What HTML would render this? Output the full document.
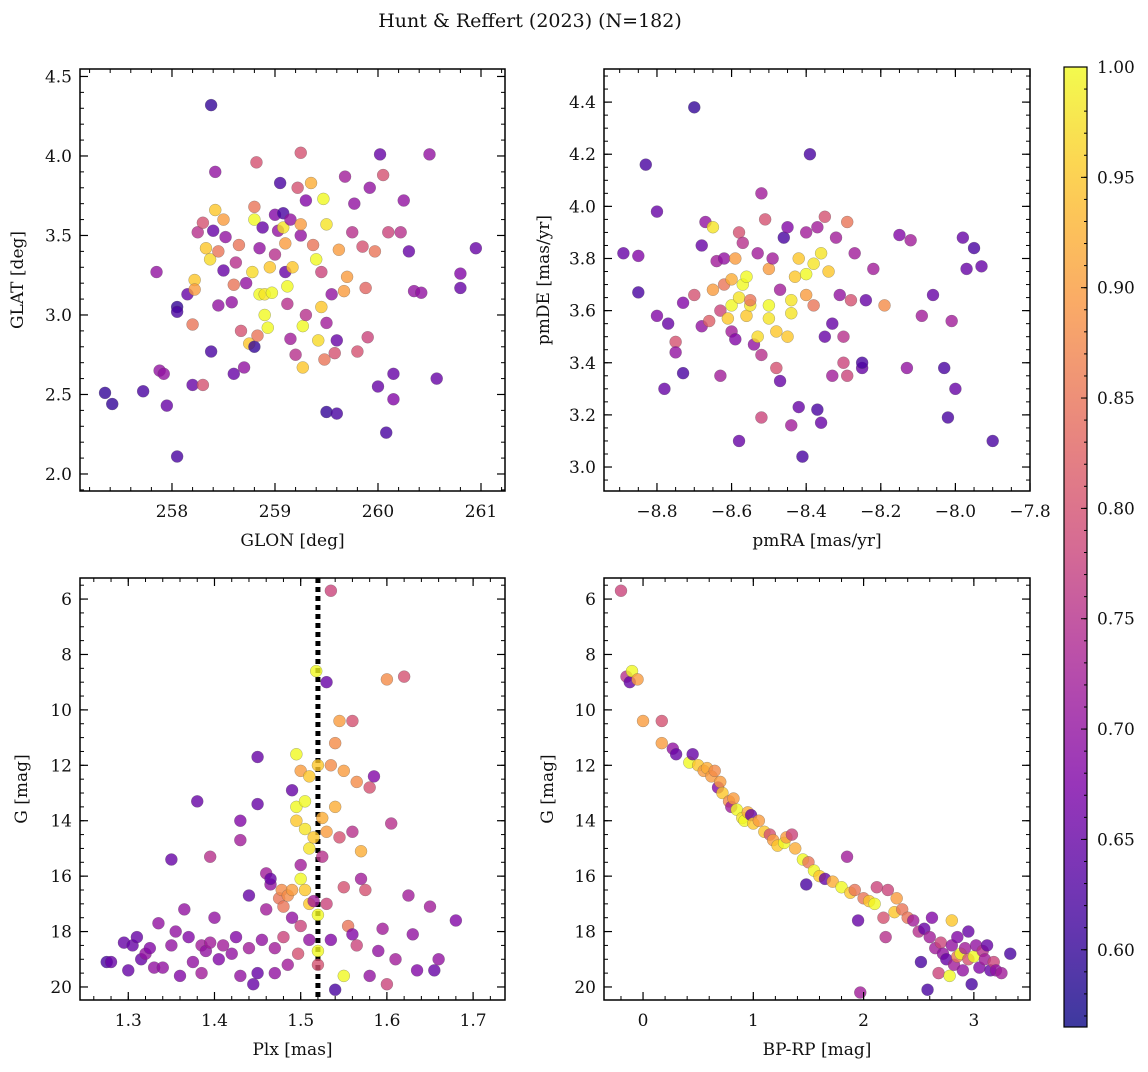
<!DOCTYPE html>
<html><head><meta charset="utf-8"><style>
body{margin:0;background:#fff;}
svg text{font-family:"DejaVu Serif","Liberation Serif",serif;fill:#111;}
</style></head><body>
<svg id="fig" width="1148" height="1067" viewBox="0 0 1148 1067" xmlns="http://www.w3.org/2000/svg">
<text x="530" y="27" font-size="19" text-anchor="middle">Hunt &amp; Reffert (2023) (N=182)</text>
</svg>
<script>
// Panel 1: GLON / GLAT / probability
const p1x=[257.35,257.42,257.72,257.85,257.88,257.92,257.95,258.05,258.05,258.05,258.15,258.2,258.2,258.22,258.22,258.25,258.3,258.3,258.33,258.37,258.38,258.38,258.4,258.42,258.42,258.45,258.45,258.5,258.5,258.52,258.58,258.6,258.6,258.62,258.65,258.67,258.7,258.72,258.75,258.78,258.8,258.8,258.8,258.82,258.85,258.83,258.85,258.88,258.9,258.9,258.93,258.95,258.97,259.0,259.0,259.03,259.05,259.08,259.08,259.1,259.1,259.12,259.12,259.15,259.15,259.17,259.2,259.22,259.25,259.25,259.25,259.27,259.27,259.3,259.3,259.35,259.37,259.4,259.42,259.45,259.45,259.47,259.48,259.5,259.5,259.5,259.55,259.58,259.6,259.6,259.62,259.67,259.68,259.7,259.75,259.77,259.8,259.85,259.88,259.9,259.92,259.97,260.0,260.02,260.05,260.08,260.1,260.15,260.15,260.22,260.25,260.3,260.35,260.42,260.5,260.57,260.8,260.8,260.95];
const p1y=[2.51,2.44,2.52,3.27,2.65,2.63,2.43,2.11,3.05,3.02,3.13,2.56,2.94,3.22,3.16,3.52,2.56,3.58,3.42,3.35,4.32,2.77,3.53,3.9,3.66,3.06,3.4,3.6,3.28,3.49,3.08,2.63,3.19,3.33,3.44,2.9,2.67,3.2,2.82,3.27,2.8,3.6,3.68,3.96,3.13,2.87,3.42,3.55,3.0,3.13,2.92,3.3,3.14,3.63,3.38,3.53,3.83,3.64,3.55,3.45,3.27,3.18,3.07,3.6,2.85,3.3,2.75,3.8,4.02,3.5,3.57,2.93,2.67,3.0,3.72,3.83,3.44,3.35,2.84,3.05,3.27,3.73,2.72,2.39,3.57,2.95,3.13,2.76,2.38,2.84,3.41,3.15,3.87,3.24,3.52,3.7,2.77,3.43,3.17,2.86,3.8,3.4,2.55,4.01,3.88,2.26,3.52,2.47,2.63,3.52,3.72,3.4,3.15,3.14,4.01,2.6,3.26,3.17,3.42];
const p1c=[.6,.6,.62,.7,.7,.7,.65,.62,.6,.62,.65,.65,.85,.95,.9,.75,.8,.8,.95,.97,.6,.62,.65,.7,.95,.7,.85,.9,.65,.7,.7,.65,.85,.75,.85,.8,.7,.7,.95,.97,.6,1,.85,.8,1,.85,.7,.65,1,.98,1,.95,1,.68,.75,.7,.62,.62,.98,.9,.65,1,.75,.7,.72,.95,.75,.8,.8,.7,.9,1,.95,.75,.68,.92,.85,1,.97,.95,.78,1,.85,.6,.98,.72,.7,.8,.62,.65,.9,.9,.72,.9,.75,.7,.8,.8,.83,.78,.7,.85,.65,.65,.8,.62,.78,.68,.65,.75,.7,.65,.7,.7,.7,.65,.68,.65,.65];
// Panel 2: pmRA / pmDE / probability
const p2x=[-8.89,-8.85,-8.85,-8.83,-8.8,-8.8,-8.78,-8.77,-8.75,-8.75,-8.73,-8.73,-8.7,-8.7,-8.68,-8.68,-8.67,-8.66,-8.65,-8.65,-8.64,-8.63,-8.63,-8.62,-8.62,-8.61,-8.6,-8.6,-8.6,-8.59,-8.59,-8.58,-8.58,-8.58,-8.57,-8.57,-8.56,-8.56,-8.55,-8.55,-8.54,-8.53,-8.53,-8.52,-8.52,-8.52,-8.51,-8.5,-8.5,-8.5,-8.49,-8.48,-8.48,-8.47,-8.47,-8.46,-8.45,-8.45,-8.44,-8.44,-8.44,-8.43,-8.42,-8.42,-8.41,-8.4,-8.4,-8.4,-8.39,-8.38,-8.38,-8.37,-8.37,-8.36,-8.36,-8.35,-8.35,-8.34,-8.33,-8.33,-8.32,-8.31,-8.3,-8.3,-8.29,-8.29,-8.28,-8.27,-8.25,-8.25,-8.24,-8.22,-8.19,-8.15,-8.13,-8.12,-8.09,-8.06,-8.03,-8.02,-8.01,-8.0,-7.98,-7.97,-7.95,-7.93,-7.9];
const p2y=[3.82,3.81,3.67,4.16,3.98,3.58,3.3,3.55,3.48,3.44,3.36,3.63,3.66,4.38,3.54,3.85,3.94,3.56,3.92,3.68,3.79,3.35,3.6,3.7,3.8,3.57,3.62,3.52,3.72,3.8,3.49,3.1,3.9,3.65,3.7,3.86,3.58,3.73,3.62,3.64,3.47,3.82,3.5,3.19,4.05,3.43,3.95,3.57,3.76,3.62,3.8,3.38,3.52,3.68,3.33,3.88,3.5,3.92,3.64,3.59,3.16,3.73,3.8,3.23,3.04,3.74,3.9,3.66,4.2,3.78,3.62,3.92,3.22,3.17,3.82,3.96,3.5,3.75,3.35,3.55,3.88,3.66,3.4,3.5,3.94,3.35,3.64,3.82,3.38,3.4,3.64,3.76,3.62,3.89,3.38,3.87,3.58,3.66,3.38,3.19,3.56,3.3,3.88,3.76,3.84,3.77,3.1];
const p2c=[.65,.68,.62,.62,.65,.68,.65,.65,.8,.7,.62,.68,.8,.6,.7,.65,.7,.82,.98,.9,.72,.72,.78,.85,.7,.95,1,.72,.92,.9,.68,.65,.8,.98,1,.75,.95,1,.98,.85,.7,.72,.97,.78,.72,.75,.8,.98,.9,1,.72,.8,.95,.72,.65,.62,.95,.68,.98,.98,.72,.95,.95,.65,.62,1,.72,.9,.62,.98,.85,.72,.62,.65,.98,.8,.65,.95,.72,.65,.72,.7,.78,.75,.85,.78,.8,.72,.65,.62,.65,.72,.88,.68,.7,.72,.72,.65,.62,.62,.72,.65,.65,.65,.62,.65,.62];
// Panel 3: Plx / G / probability
const p3x=[1.275,1.28,1.295,1.30,1.305,1.31,1.315,1.32,1.325,1.33,1.335,1.34,1.35,1.35,1.355,1.36,1.365,1.37,1.375,1.38,1.385,1.385,1.39,1.395,1.395,1.40,1.405,1.41,1.42,1.425,1.43,1.43,1.43,1.44,1.44,1.445,1.45,1.45,1.45,1.455,1.46,1.46,1.465,1.465,1.47,1.47,1.475,1.478,1.48,1.48,1.485,1.485,1.49,1.49,1.49,1.495,1.495,1.495,1.497,1.5,1.5,1.5,1.5,1.505,1.505,1.505,1.518,1.51,1.51,1.51,1.51,1.515,1.515,1.52,1.52,1.52,1.52,1.525,1.525,1.53,1.53,1.53,1.535,1.535,1.535,1.54,1.54,1.54,1.545,1.545,1.55,1.55,1.55,1.555,1.56,1.56,1.56,1.565,1.565,1.57,1.57,1.575,1.58,1.58,1.585,1.59,1.595,1.60,1.60,1.605,1.61,1.62,1.625,1.63,1.635,1.65,1.655,1.66,1.68];
const p3y=[19.1,19.1,18.4,19.4,18.5,18.2,19.0,18.8,18.6,19.3,17.7,19.3,15.4,18.5,18.0,19.6,17.2,18.2,19.1,13.3,18.5,19.5,18.7,15.3,18.4,17.5,19.0,18.5,18.8,18.2,14.0,14.7,19.6,18.6,16.7,19.9,11.7,13.4,19.5,18.3,15.9,17.2,16.3,16.1,18.6,19.5,16.8,16.5,17.1,18.2,16.7,19.2,12.9,16.5,17.5,13.5,11.6,14.0,18.8,12.2,15.6,16.1,17.8,13.3,14.3,16.5,8.6,12.4,15.0,17.0,18.3,14.6,16.9,12.0,17.4,18.7,19.2,13.9,15.3,9.0,14.4,17.0,5.7,12.0,18.3,11.2,13.5,20.1,10.4,14.6,12.2,16.4,19.6,17.8,10.4,14.4,18.1,12.6,18.5,15.1,16.1,16.5,12.8,19.6,12.4,18.7,17.9,8.9,19.9,14.1,19.0,8.8,16.7,18.1,19.4,17.1,19.4,19.0,17.6];
const p3c=[.62,.65,.65,.65,.65,.65,.65,.7,.68,.7,.7,.7,.65,.7,.7,.68,.7,.68,.7,.65,.72,.72,.7,.75,.72,.7,.68,.72,.7,.68,.68,.72,.7,.72,.65,.65,.65,.65,.65,.7,.72,.72,.7,.65,.72,.7,.85,.88,.85,.78,.88,.72,.65,.9,.7,1,1,.95,.8,.9,.72,1,.78,1,.98,.95,1,.95,.98,.95,.7,.95,.72,.95,1,1,.8,.92,.75,.65,.9,.78,.78,.88,.68,.88,.92,.62,.9,.8,.9,.8,1,.85,.8,.75,.68,.88,.78,.92,.72,.8,.8,.7,.68,.7,.72,.88,.78,.75,.72,.8,.72,.7,.68,.72,.65,.7,.68];
// Panel 4: BP-RP / G / probability
const p4x=[-0.2,-0.15,-0.12,-0.1,-0.05,0.0,0.17,0.17,0.27,0.3,0.42,0.45,0.5,0.55,0.58,0.62,0.65,0.68,0.7,0.72,0.78,0.8,0.82,0.85,0.9,0.92,0.95,0.98,1.0,1.05,1.1,1.15,1.18,1.22,1.28,1.3,1.35,1.38,1.45,1.48,1.5,1.55,1.6,1.65,1.72,1.8,1.85,1.88,1.92,1.95,1.97,2.0,2.05,2.1,2.12,2.18,2.2,2.22,2.28,2.3,2.35,2.4,2.45,2.5,2.52,2.55,2.58,2.6,2.62,2.65,2.68,2.7,2.72,2.75,2.78,2.8,2.8,2.82,2.85,2.85,2.88,2.9,2.92,2.95,2.95,2.98,3.0,3.02,3.05,3.08,3.1,3.12,3.15,3.18,3.2,3.25,3.33];
const p4y=[5.7,8.8,9.0,8.6,8.9,10.4,10.4,11.2,11.4,11.6,11.9,11.6,12.0,12.2,12.1,12.4,12.2,12.8,12.6,13.0,13.3,13.5,13.2,13.6,13.9,14.0,13.7,13.8,14.1,14.0,14.4,14.5,14.7,14.9,14.8,14.6,14.5,15.0,15.4,16.3,15.5,15.8,16.0,16.1,16.2,16.4,15.3,16.6,16.5,17.6,20.2,16.8,16.9,17.0,16.4,17.5,18.2,16.5,17.3,16.8,17.2,17.5,17.6,18.0,19.1,17.9,20.1,18.2,17.5,18.6,19.5,18.4,18.8,19.0,19.6,17.6,18.5,19.2,18.9,18.2,18.8,19.4,18.6,19.0,18.0,19.9,18.9,18.5,19.3,18.7,19.0,18.5,19.4,19.1,19.4,19.5,18.8];
const p4c=[.78,.75,.65,1,.9,.9,.8,.9,.7,.65,1,.65,.95,.9,.92,.9,.88,.68,.9,.95,.88,.72,.9,1,.98,1,.92,.65,.95,.9,.95,.8,.9,.95,1,.9,.78,.92,1,.62,.85,1,.95,.65,.92,1,.72,.95,.85,.65,.72,.85,.95,1,.78,.8,.75,.78,.95,.9,.85,.85,.72,.75,.62,.65,.62,.72,.68,.72,.78,.78,.7,.65,1,.95,.7,.72,.85,.68,1,.7,.72,.8,.65,.62,1,.7,.68,.75,.72,.65,.65,.78,.7,.72,.62];
const cbTicks=[0.60,0.65,0.70,0.75,0.80,0.85,0.90,0.95,1.00];
const vmin=0.565, vmax=1.0;

const NS='http://www.w3.org/2000/svg';
const svg=document.getElementById('fig');
function mk(tag,attrs,parent){const e=document.createElementNS(NS,tag);for(const k in attrs)e.setAttribute(k,attrs[k]);(parent||svg).appendChild(e);return e;}
const stops=[[0,[13,8,135]],[.13,[75,3,161]],[.25,[125,3,168]],[.38,[168,34,150]],[.5,[203,70,121]],[.63,[229,107,93]],[.75,[248,148,65]],[.88,[253,195,40]],[1,[240,249,33]]];
function plasma(t){t=Math.max(0,Math.min(1,t));for(let i=1;i<stops.length;i++){if(t<=stops[i][0]){const a=stops[i-1],b=stops[i];const f=(t-a[0])/(b[0]-a[0]);return 'rgb('+a[1].map((v,j)=>Math.round(v+(b[1][j]-v)*f)).join(',')+')';}}return 'rgb(240,249,33)';}
function cmap(v){return plasma((v-vmin)/(vmax-vmin));}

function panel(o){
  const g=mk('g',{});
  
  
  const sx=v=>o.L+(v-o.x0)/(o.x1-o.x0)*(o.R-o.L);
  const sy=o.inv?(v=>o.T+(v-o.y0)/(o.y1-o.y0)*(o.B-o.T)):(v=>o.B-(v-o.y0)/(o.y1-o.y0)*(o.B-o.T));
  if(o.vline!==undefined){const l=mk('line',{x1:sx(o.vline),x2:sx(o.vline),y1:o.T,y2:o.B,stroke:'#000','stroke-width':5,'stroke-dasharray':'5,4'},g);
    }
  for(let i=0;i<o.xs.length;i++){
    const c=mk('circle',{cx:sx(o.xs[i]),cy:sy(o.ys[i]),r:6,fill:cmap(o.cs[i]),'fill-opacity':0.8,stroke:'#555','stroke-opacity':0.5,'stroke-width':0.5},g);
    
    
  }
  const f=mk('rect',{x:o.L,y:o.T,width:o.R-o.L,height:o.B-o.T,fill:'none',stroke:'#000','stroke-width':1.5},g);
  
  const eps=1e-9;
  const lo=Math.min(o.x0,o.x1),hi=Math.max(o.x0,o.x1);
  for(let v=Math.ceil(lo/o.xm-eps)*o.xm;v<=hi+eps;v+=o.xm){const X=sx(v);mk('line',{x1:X,x2:X,y1:o.B,y2:o.B-4,stroke:'#000'},g);mk('line',{x1:X,x2:X,y1:o.T,y2:o.T+4,stroke:'#000'},g);}
  o.xt.forEach(v=>{const X=sx(v);mk('line',{x1:X,x2:X,y1:o.B,y2:o.B-8,stroke:'#000','stroke-width':1.2},g);mk('line',{x1:X,x2:X,y1:o.T,y2:o.T+8,stroke:'#000','stroke-width':1.2},g);
    const t=mk('text',{x:X,y:o.B+26,'font-size':17,'text-anchor':'middle'},g);t.textContent=(v<0?'\u2212':'')+Math.abs(v).toFixed(o.xd);
    });
  const ylo=Math.min(o.y0,o.y1),yhi=Math.max(o.y0,o.y1);
  for(let v=Math.ceil(ylo/o.ym-eps)*o.ym;v<=yhi+eps;v+=o.ym){const Y=sy(v);mk('line',{x1:o.L,x2:o.L+4,y1:Y,y2:Y,stroke:'#000'},g);mk('line',{x1:o.R,x2:o.R-4,y1:Y,y2:Y,stroke:'#000'},g);}
  o.yt.forEach(v=>{const Y=sy(v);mk('line',{x1:o.L,x2:o.L+8,y1:Y,y2:Y,stroke:'#000','stroke-width':1.2},g);mk('line',{x1:o.R,x2:o.R-8,y1:Y,y2:Y,stroke:'#000','stroke-width':1.2},g);
    const t=mk('text',{x:o.L-8,y:Y+6,'font-size':17,'text-anchor':'end'},g);t.textContent=v.toFixed(o.yd);
    });
  const xl=mk('text',{x:(o.L+o.R)/2,y:o.B+55,'font-size':17,'text-anchor':'middle'},g);xl.textContent=o.xlab;
  
  const yx=o.ylx, yy=(o.T+o.B)/2;
  const yl=mk('text',{x:yx,y:yy,'font-size':17,'text-anchor':'middle',transform:'rotate(-90 '+yx+' '+yy+')'},g);yl.textContent=o.ylab;
  
}
panel({name:'glon-glat-panel',L:80,R:505,T:69,B:491,x0:257.107,x1:261.233,y0:1.893,y1:4.547,xs:p1x,ys:p1y,cs:p1c,xt:[258,259,260,261],xm:0.2,xd:0,yt:[2.0,2.5,3.0,3.5,4.0,4.5],ym:0.1,yd:1,xlab:'GLON [deg]',ylab:'GLAT [deg]',ylx:23});
panel({name:'proper-motion-panel',L:604,R:1030,T:69,B:491,x0:-8.942,x1:-7.8,y0:2.908,y1:4.527,xs:p2x,ys:p2y,cs:p2c,xt:[-8.8,-8.6,-8.4,-8.2,-8.0,-7.8],xm:0.05,xd:1,yt:[3.0,3.2,3.4,3.6,3.8,4.0,4.2,4.4],ym:0.05,yd:1,xlab:'pmRA [mas/yr]',ylab:'pmDE [mas/yr]',ylx:549});
panel({name:'parallax-magnitude-panel',L:80,R:505,T:578,B:1000,x0:1.244,x1:1.737,y0:5.24,y1:20.47,inv:true,xs:p3x,ys:p3y,cs:p3c,xt:[1.3,1.4,1.5,1.6,1.7],xm:0.02,xd:1,yt:[6,8,10,12,14,16,18,20],ym:0.5,yd:0,xlab:'Plx [mas]',ylab:'G [mag]',ylx:27,vline:1.52});
panel({name:'color-magnitude-panel',L:604,R:1030,T:578,B:1000,x0:-0.354,x1:3.509,y0:5.24,y1:20.47,inv:true,xs:p4x,ys:p4y,cs:p4c,xt:[0,1,2,3],xm:0.2,xd:0,yt:[6,8,10,12,14,16,18,20],ym:0.5,yd:0,xlab:'BP-RP [mag]',ylab:'G [mag]',ylx:553});

// colorbar
const cb=mk('g',{});


const CT=67,CB=1027,CL=1064,CR=1087;
const cy=v=>CB-(v-vmin)/(vmax-vmin)*(CB-CT);
const defs=mk('defs',{},cb);const lg=mk('linearGradient',{id:'pg',x1:0,y1:1,x2:0,y2:0},defs);
for(let i=0;i<=20;i++){const t=i/20;mk('stop',{offset:t,'stop-color':cmap(vmin+t*(vmax-vmin))},lg);}
mk('rect',{x:CL,y:CT,width:CR-CL,height:CB-CT,fill:'url(#pg)','fill-opacity':0.8},cb);
mk('rect',{x:CL,y:CT,width:CR-CL,height:CB-CT,fill:'none',stroke:'#000','stroke-width':1.2},cb);
cbTicks.forEach(v=>{const Y=cy(v);mk('line',{x1:CR,x2:CR-6,y1:Y,y2:Y,stroke:'#000'},cb);
  const t=mk('text',{x:CR+10,y:Y+6,'font-size':17},cb);t.textContent=v.toFixed(2);
  });
for(let v=0.57;v<=1.0001;v+=0.01){const Y=cy(v);mk('line',{x1:CR,x2:CR-3,y1:Y,y2:Y,stroke:'#000'},cb);}
</script>
</body></html>
